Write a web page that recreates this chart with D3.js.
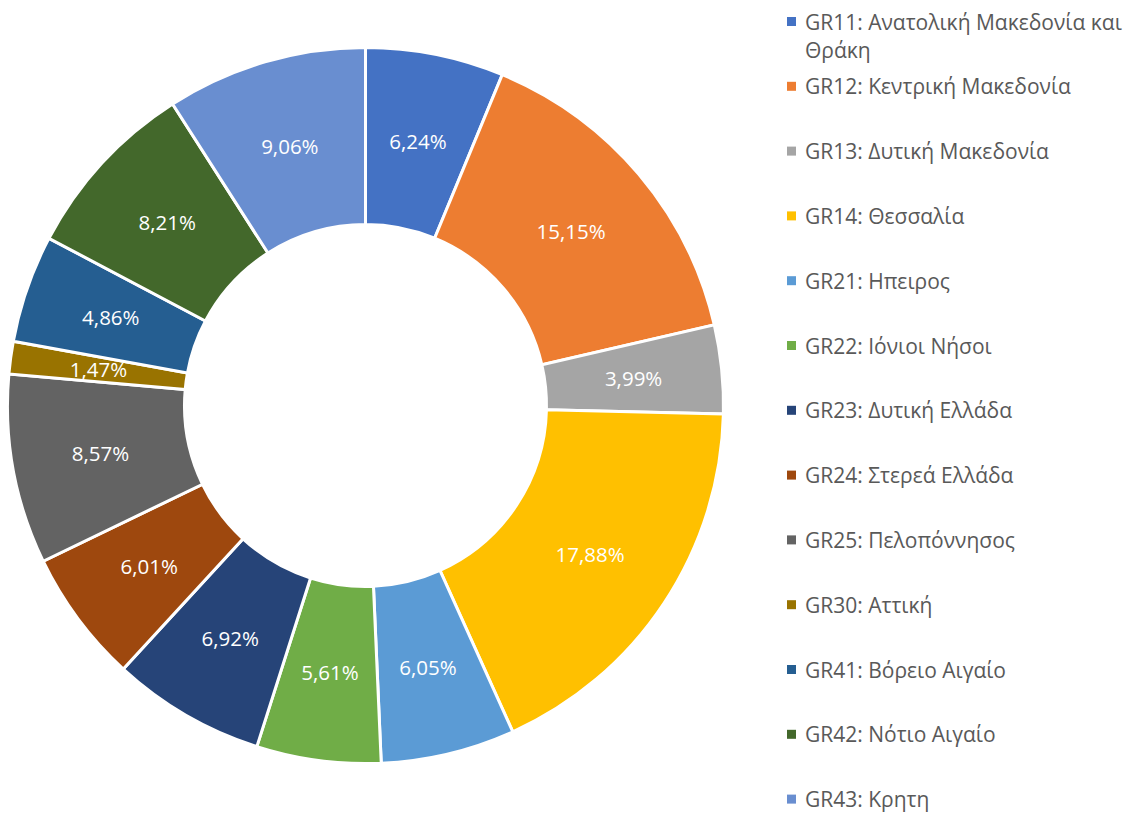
<!DOCTYPE html>
<html>
<head>
<meta charset="utf-8">
<script src="https://cdn.jsdelivr.net/npm/d3@7"></script>
<style>
  html, body { margin: 0; padding: 0; background: #fff; }
  svg { display: block; }
</style>
</head>
<body>
<svg id="chart" width="1126" height="813"></svg>
<script>
const categories = [
  "GR11: Ανατολική Μακεδονία και Θράκη",
  "GR12: Κεντρική Μακεδονία",
  "GR13: Δυτική Μακεδονία",
  "GR14: Θεσσαλία",
  "GR21: Ηπειρος",
  "GR22: Ιόνιοι Νήσοι",
  "GR23: Δυτική Ελλάδα",
  "GR24: Στερεά Ελλάδα",
  "GR25: Πελοπόννησος",
  "GR30: Αττική",
  "GR41: Βόρειο Αιγαίο",
  "GR42: Νότιο Αιγαίο",
  "GR43: Κρητη"
];
const values = [6.24, 15.15, 3.99, 17.88, 6.05, 5.61, 6.92, 6.01, 8.57, 1.47, 4.86, 8.21, 9.06];
const colors = ["#4472C4", "#ED7D31", "#A5A5A5", "#FFC000", "#5B9BD5", "#70AD47",
                "#264478", "#9E480E", "#636363", "#997300", "#255E91", "#43682B", "#698ED0"];

const svg = d3.select("#chart");
const cx = 365.5, cy = 405.5, outerR = 358, innerR = 181;
const fontFamily = "'Open Sans', Lato, sans-serif";

const data = categories.map((c, i) => ({ name: c, value: values[i], color: colors[i] }));

const pie = d3.pie().value(d => d.value).sort(null);
const arc = d3.arc().innerRadius(innerR).outerRadius(outerR);
const labelArc = d3.arc().innerRadius((innerR + outerR) / 2).outerRadius((innerR + outerR) / 2);

const g = svg.append("g").attr("transform", `translate(${cx},${cy})`);
const arcs = pie(data);

g.selectAll("path.slice").data(arcs).join("path")
  .attr("class", "slice")
  .attr("d", arc)
  .attr("fill", d => d.data.color)
  .attr("stroke", "#fff")
  .attr("stroke-width", 3)
  .attr("stroke-linejoin", "miter");

const fmt = v => v.toFixed(2).replace(".", ",") + "%";
g.selectAll("text.lbl").data(arcs).join("text")
  .attr("class", "lbl")
  .attr("transform", d => `translate(${labelArc.centroid(d)})`)
  .attr("text-anchor", "middle")
  .attr("dy", "0.36em")
  .attr("fill", "#fff")
  .style("font-family", fontFamily)
  .style("font-size", "20.5px")
  .text(d => fmt(d.data.value));

// Legend
const legend = svg.append("g");
const legX = 787, textX = 805, baseY = 29.5, step = 64.8, maxW = 318;
const items = legend.selectAll("g.item").data(data).join("g")
  .attr("class", "item")
  .attr("transform", (d, i) => `translate(0,${baseY + i * step})`);

items.append("rect")
  .attr("x", legX).attr("y", -12.5).attr("width", 9).attr("height", 9)
  .attr("fill", d => d.color);

items.append("text")
  .attr("x", textX).attr("y", 0)
  .attr("fill", "#595959")
  .style("font-family", fontFamily)
  .style("font-size", "21px")
  .each(function(d) {
    const t = d3.select(this);
    const words = d.name.split(" ");
    let line = [];
    let tspan = t.append("tspan").attr("x", textX).attr("dy", 0);
    words.forEach(w => {
      line.push(w);
      tspan.text(line.join(" "));
      if (tspan.node().getComputedTextLength() > maxW && line.length > 1) {
        line.pop();
        tspan.text(line.join(" "));
        line = [w];
        tspan = t.append("tspan").attr("x", textX).attr("dy", 28).text(w);
      }
    });
  });
</script>
</body>
</html>
